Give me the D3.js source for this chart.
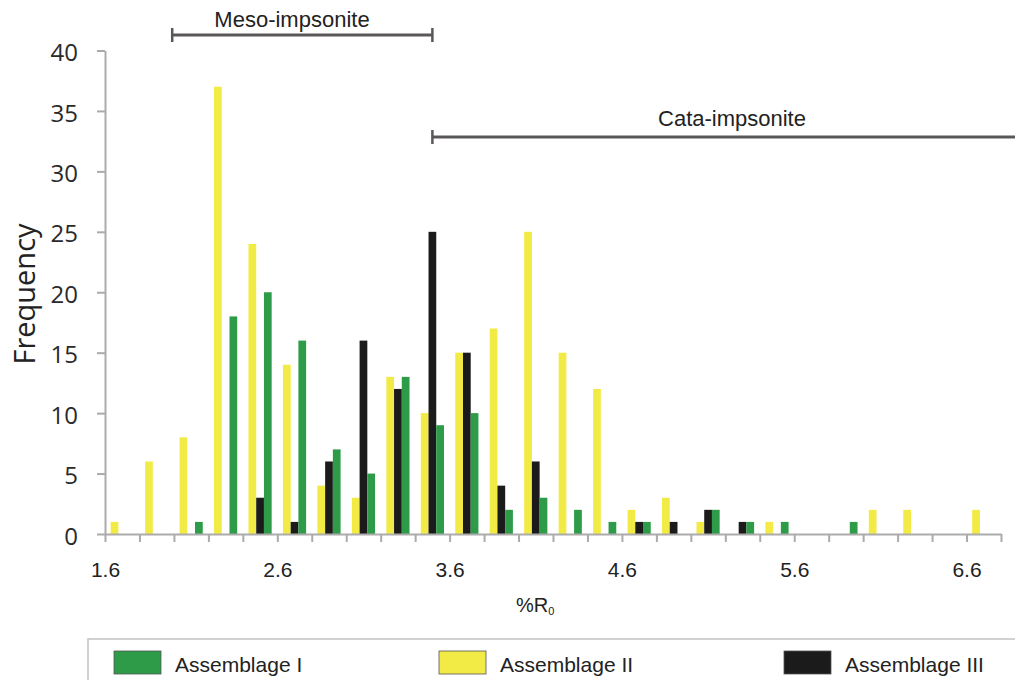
<!DOCTYPE html>
<html>
<head>
<meta charset="utf-8">
<script src="https://cdn.jsdelivr.net/npm/d3@7"></script>
<style>
  html, body { margin: 0; padding: 0; background: #fff; }
  svg { display: block; }
</style>
</head>
<body>
<svg id="chart" width="1015" height="680"></svg>
<script>
// ---- data ----
const bins = [1.6, 1.8, 2.0, 2.2, 2.4, 2.6, 2.8, 3.0, 3.2, 3.4, 3.6, 3.8, 4.0, 4.2, 4.4, 4.6, 4.8, 5.0, 5.2, 5.4, 5.6, 5.8, 6.0, 6.2, 6.4, 6.6];
const assemblageI   = [0, 0, 1, 18, 20, 16, 7, 5, 13, 9, 10, 2, 3, 2, 1, 1, 0, 2, 1, 1, 0, 1, 0, 0, 0, 0];
const assemblageII  = [1, 6, 8, 37, 24, 14, 4, 3, 13, 10, 15, 17, 25, 15, 12, 2, 3, 1, 0, 1, 0, 0, 2, 2, 0, 2];
const assemblageIII = [0, 0, 0, 0, 3, 1, 6, 16, 12, 25, 15, 4, 6, 0, 0, 1, 1, 2, 1, 0, 0, 0, 0, 0, 0, 0];
const seriesNames = ["Assemblage I", "Assemblage II", "Assemblage III"];
const barOrder = ["Assemblage II", "Assemblage III", "Assemblage I"];
const yTicks = [0, 5, 10, 15, 20, 25, 30, 35, 40];
const xLabelTicks = [1.6, 2.6, 3.6, 4.6, 5.6, 6.6];
const xMinorTicks = [1.6,1.8,2.0,2.2,2.4,2.6,2.8,3.0,3.2,3.4,3.6,3.8,4.0,4.2,4.4,4.6,4.8,5.0,5.2,5.4,5.6,5.8,6.0,6.2,6.4,6.6,6.8];
const rangeLabels = ["Meso-impsonite", "Cata-impsonite"];
const rangeStarts = [1.99, 3.5];
const rangeEnds = [3.5, 6.9];

const colors = {"Assemblage I": "#2e9b49", "Assemblage II": "#f2ea45", "Assemblage III": "#1b1b1b"};
const seriesData = {"Assemblage I": assemblageI, "Assemblage II": assemblageII, "Assemblage III": assemblageIII};

const svg = d3.select("#chart");

const x = d3.scaleLinear().domain([1.6, 6.8]).range([105, 1001]);
const y = d3.scaleLinear().domain([0, 40]).range([534, 50.5]);
const slotW = x(1.8) - x(1.6);
const inner = d3.scaleBand().domain(barOrder).range([0, slotW]).paddingInner(0).paddingOuter(0.73);

// bars
const rows = [];
bins.forEach((b, i) => {
  barOrder.forEach(s => {
    const v = seriesData[s][i];
    if (v > 0) rows.push({bin: b, series: s, value: v});
  });
});
svg.append("g").selectAll("rect").data(rows).join("rect")
  .attr("x", d => x(d.bin) + inner(d.series))
  .attr("width", inner.bandwidth())
  .attr("y", d => y(d.value))
  .attr("height", d => y(0) - y(d.value))
  .attr("fill", d => colors[d.series]);

// axes
const axisColor = "#ababab";
const yAxis = svg.append("g").attr("transform", "translate(105,0)")
  .call(d3.axisLeft(y).tickValues(yTicks).tickSize(8).tickSizeOuter(0).tickPadding(19));
yAxis.selectAll("path, line").attr("stroke", axisColor).attr("stroke-width", 2);
yAxis.selectAll("text").attr("font-family", "'Open Sans', sans-serif").attr("font-size", 24)
  .attr("fill", "#2a2a2a").attr("dy", "0.42em");

const xAxis = svg.append("g").attr("transform", "translate(0,534)")
  .call(d3.axisBottom(x).tickValues(xMinorTicks).tickSize(8).tickSizeOuter(0).tickPadding(20)
    .tickFormat(d => xLabelTicks.some(t => Math.abs(t - d) < 1e-6) ? d3.format(".1f")(d) : ""));
xAxis.selectAll("path, line").attr("stroke", axisColor).attr("stroke-width", 2);
xAxis.selectAll("text").attr("font-family", "'Liberation Sans', Arial, sans-serif").attr("font-size", 21)
  .attr("fill", "#222");

// axis titles
svg.append("text")
  .attr("transform", "translate(35,294) rotate(-90)")
  .attr("text-anchor", "middle")
  .attr("font-family", "'Open Sans', sans-serif").attr("font-size", 29).attr("fill", "#222")
  .text("Frequency");

const xt = svg.append("text").attr("x", 516).attr("y", 612)
  .attr("font-family", "'Liberation Sans', Arial, sans-serif").attr("font-size", 20).attr("fill", "#222");
xt.append("tspan").text("%R");
xt.append("tspan").attr("font-size", 11).attr("dy", 3).text("0");

// range brackets
const bracketY = [35, 137];
const labelY = [27, 126];
rangeLabels.forEach((lab, i) => {
  const g = svg.append("g");
  const x0 = x(rangeStarts[i]), x1 = x(rangeEnds[i]);
  g.append("line").attr("x1", x0).attr("x2", x1).attr("y1", bracketY[i]).attr("y2", bracketY[i])
    .attr("stroke", "#5a5757").attr("stroke-width", 3);
  g.append("line").attr("x1", x0).attr("x2", x0).attr("y1", bracketY[i] - 7).attr("y2", bracketY[i] + 7)
    .attr("stroke", "#5a5757").attr("stroke-width", 2.5);
  if (i === 0) {
    g.append("line").attr("x1", x1).attr("x2", x1).attr("y1", bracketY[i] - 7).attr("y2", bracketY[i] + 7)
      .attr("stroke", "#5a5757").attr("stroke-width", 2.5);
  }
  const cx = i === 0 ? 292 : 732;
  g.append("text").attr("x", cx).attr("y", labelY[i]).attr("text-anchor", "middle")
    .attr("font-family", "'Liberation Sans', Arial, sans-serif").attr("font-size", 22).attr("fill", "#222")
    .text(lab);
});

// legend
svg.append("rect").attr("x", 88).attr("y", 639).attr("width", 1000).attr("height", 100)
  .attr("fill", "none").attr("stroke", "#c2c2c2").attr("stroke-width", 1.5);
const legX = [114, 439, 784];
seriesNames.forEach((s, i) => {
  svg.append("rect").attr("x", legX[i]).attr("y", 651).attr("width", 47).attr("height", 23)
    .attr("fill", colors[s]).attr("stroke", "#555").attr("stroke-width", 0.8);
  svg.append("text").attr("x", legX[i] + 61).attr("y", 672)
    .attr("font-family", "'Liberation Sans', Arial, sans-serif").attr("font-size", 21).attr("fill", "#222")
    .text(s);
});
</script>
</body>
</html>
